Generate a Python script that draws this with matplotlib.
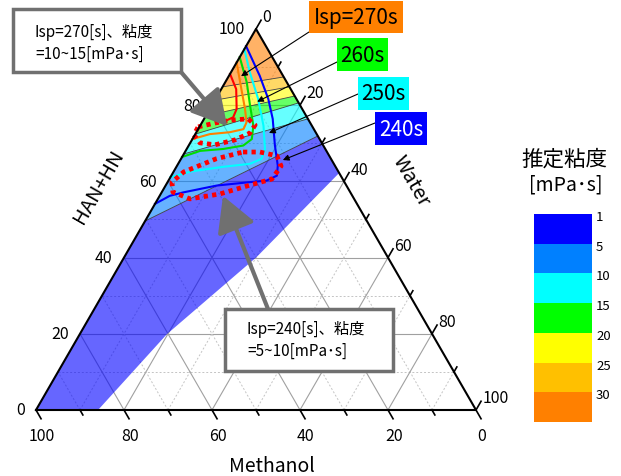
import numpy as np
import matplotlib
matplotlib.use('Agg')
import matplotlib.pyplot as plt
from matplotlib.patches import Polygon, Rectangle
from matplotlib.colors import ListedColormap, BoundaryNorm
from matplotlib.cm import ScalarMappable

plt.rcParams['font.family'] = ['Noto Sans CJK JP', 'DejaVu Sans']

# 推定粘度 legend
visc_ticks = [1, 5, 10, 15, 20, 25, 30]
visc_bounds = [1, 5, 10, 15, 20, 25, 30, 35]
visc_colors = ['#0000ff', '#0080ff', '#00ffff', '#00ff00', '#ffff00', '#ffc000', '#ff8000']

# band borders (HAN+HN % on the left edge / right edge), levels 5,10,15,20,25,30
bound_han_left = [49.6, 67.2, 72.4, 77.2, 81.3, 84.8]
bound_han_right = [71.9, 76.4, 80.6, 82.4, 84.8, 87.4]

# lower limit of the estimated region (from the right edge down to the bottom)
region_han = [62.2, 40.2, 19.9, 0.0]
region_water = [37.8, 30.1, 19.8, 14.1]

# Isp contours (HAN+HN %, Water %)
isp_280_han = [88.2, 84.2, 79.0, 76.8, 75.8]
isp_280_water = [0.0, 3.4, 6.1, 6.4, 5.0]
isp_270_han = [91.2, 86.0, 79.0, 75.5, 73.7, 72.9, 72.4, 71.1]
isp_270_water = [0.0, 3.4, 8.0, 10.1, 10.3, 7.6, 3.3, 0.0]
isp_260_han = [92.6, 86.0, 79.9, 74.6, 71.1, 69.4, 68.5, 68.0, 66.4]
isp_260_water = [0.0, 4.9, 8.7, 12.1, 13.5, 12.4, 8.3, 3.3, 0.0]
isp_250_han = [94.7, 88.6, 81.6, 74.6, 68.5, 65.9, 64.6, 63.8, 62.6, 61.1]
isp_250_water = [0.0, 4.3, 9.7, 14.4, 17.8, 18.3, 16.3, 10.5, 4.0, 0.0]
isp_240_han = [95.5, 87.7, 81.6, 76.4, 69.4, 64.1, 61.5, 60.2, 59.8, 58.9, 57.1, 56.2, 54.1]
isp_240_water = [0.0, 7.0, 12.0, 15.6, 19.6, 22.9, 24.0, 22.3, 18.7, 11.6, 4.9, 2.3, 0.0]

# dotted target areas
area_270_han = [74.3, 75.3, 76.1, 76.4, 74.8, 72.7, 70.9, 69.6, 70.1, 72.2]
area_270_water = [-0.3, 3.0, 6.5, 10.0, 12.4, 12.3, 9.8, 5.9, 2.2, -0.2]
area_240_han = [67.7, 67.7, 66.7, 64.0, 60.6, 59.0, 56.7, 55.4, 57.2, 59.8, 62.5, 65.9]
area_240_water = [13.2, 17.05, 21.4, 23.7, 23.3, 19.1, 13.45, 7.3, 2.5, 1.0, 2.35, 7.95]

# arrow targets (HAN+HN %, Water %)
tip_270 = (87.6, 2.8)
tip_260 = (80.9, 9.8)
tip_250 = (72.7, 16.6)
tip_240 = (65.6, 23.3)
tip_area_270 = (74.5, 6.2)
tip_area_240 = (56.2, 14.4)


def tern(han, water):
    han = np.asarray(han, dtype=float)
    water = np.asarray(water, dtype=float)
    return water + han / 2, han * np.sqrt(3) / 2


def tpt(p):
    x, y = tern(p[0], p[1])
    return float(x), float(y)


def fx(px):
    return px / 621


def fy(py):
    return 1 - py / 477


fig = plt.figure(figsize=(6.21, 4.77), dpi=100)
ax = fig.add_axes([0, 0, 1, 1])
ax.set_xlim(-36 / 4.4, (621 - 36) / 4.4)
ax.set_ylim(-66 / 4.4, 411 / 4.4)
ax.axis('off')

# grid
for v in range(10, 100, 10):
    if v % 20 == 0:
        st = dict(color='#a0a0a0', lw=0.8, ls='-')
    else:
        st = dict(color='#c4c4c4', lw=0.7, ls=(0, (2, 2)))
    ax.plot(*tern([v, v], [0, 100 - v]), zorder=1, **st)
    ax.plot(*tern([0, 100 - v], [v, v]), zorder=1, **st)
    ax.plot(*tern([0, 100 - v], [100 - v, 0]), zorder=1, **st)

# viscosity bands
bands = []
h = [bound_han_left[0], bound_han_right[0]] + region_han + [0.0]
w = [0.0, 100 - bound_han_right[0]] + region_water + [0.0]
bands.append((h, w))
for k in range(1, 6):
    h = [bound_han_left[k], bound_han_right[k], bound_han_right[k - 1], bound_han_left[k - 1]]
    w = [0.0, 100 - bound_han_right[k], 100 - bound_han_right[k - 1], 0.0]
    bands.append((h, w))
bands.append(([100.0, bound_han_right[5], bound_han_left[5]], [0.0, 100 - bound_han_right[5], 0.0]))
for (h, w), c in zip(bands, visc_colors):
    x, y = tern(h, w)
    ax.add_patch(Polygon(np.column_stack([x, y]), closed=True, fc=c, ec='none', alpha=0.6, zorder=2))
for hl, hr in zip(bound_han_left, bound_han_right):
    ax.plot(*tern([hl, hr], [0, 100 - hr]), color='#404040', lw=0.6, zorder=3)

# Isp contours
for hh, ww, c in [(isp_280_han, isp_280_water, '#ff0000'),
                  (isp_270_han, isp_270_water, '#ff8000'),
                  (isp_260_han, isp_260_water, '#00dd00'),
                  (isp_250_han, isp_250_water, '#00ffff'),
                  (isp_240_han, isp_240_water, '#0000ff')]:
    ax.plot(*tern(hh, ww), color=c, lw=1.5, zorder=4, solid_joinstyle='round')

for hh, ww in [(area_270_han, area_270_water), (area_240_han, area_240_water)]:
    ax.plot(*tern(hh + hh[:1], ww + ww[:1]), color='#ff0000', lw=3.4,
            ls=(0, (0.9, 0.9)), dash_capstyle='butt', zorder=5)

# triangle frame
ax.plot(*tern([0, 100, 0, 0], [0, 0, 100, 0]), color='black', lw=1.5, zorder=6)

# ticks and labels
for v in range(0, 101, 10):
    L = 2.3 if v % 20 == 0 else 1.3
    x0, y0 = tpt((0, 100 - v))
    ax.plot([x0, x0 + L * 0.5], [y0, y0 - L * 0.866], color='black', lw=1.2, zorder=6)
    x1, y1 = tpt((100 - v, v))
    ax.plot([x1, x1 + L * 0.5], [y1, y1 + L * 0.866], color='black', lw=1.2, zorder=6)
    if v % 20 == 0:
        ax.text(x0 + 1.3, y0 - 5.8, str(v), ha='center', va='center', fontsize=11.5)
        ax.text(x1 + 1.4, y1 + 2.8, str(v), ha='left', va='center', fontsize=11.5)
        x2, y2 = tpt((v, 0))
        ax.text(x2 - 2.6, y2, str(v), ha='right', va='center', fontsize=11.5)

ax.text(fx(272), fy(467), 'Methanol', transform=ax.transAxes, ha='center', va='center', fontsize=14)
ax.text(fx(99), fy(187), 'HAN+HN', transform=ax.transAxes, ha='center', va='center',
        fontsize=14.5, rotation=60)
ax.text(fx(411), fy(181), 'Water', transform=ax.transAxes, ha='center', va='center',
        fontsize=14.5, rotation=-60)

# Isp label boxes with thin arrows
labels = [('Isp=270s', (309, 2, 403, 34), '#ff8000', 'black', tip_270, (309, 33)),
          ('260s', (337, 39, 388, 72), '#00ff00', 'black', tip_260, (337, 63)),
          ('250s', (358, 78, 409, 111), '#00ffff', 'black', tip_250, (358, 95)),
          ('240s', (375, 113, 427, 146), '#0000ff', 'white', tip_240, (375, 124))]
for txt, (x0, y0, x1, y1), fc, tc, tip, start in labels:
    ax.annotate('', xy=tpt(tip), xytext=(fx(start[0]), fy(start[1])), textcoords='axes fraction',
                arrowprops=dict(arrowstyle='-|>', color='black', lw=0.8, mutation_scale=9,
                                shrinkA=0, shrinkB=0), zorder=7)
    ax.add_patch(Rectangle((fx(x0), fy(y1)), fx(x1 - x0), (y1 - y0) / 477, transform=ax.transAxes,
                           fc=fc, ec='none', zorder=8))
    ax.text(fx((x0 + x1) / 2), fy((y0 + y1) / 2), txt, transform=ax.transAxes, ha='center',
            va='center', fontsize=15, color=tc, zorder=9)

# grey call-out boxes
callouts = [((13, 10, 181, 73), ['Isp=270[s]、粘度', '=10~15[mPa･s]'], (35, 32.5, 54),
             tip_area_270, (181, 73)),
            ((225, 310, 393, 372), ['Isp=240[s]、粘度', '=5~10[mPa･s]'], (247, 329, 351.5),
             tip_area_240, (268, 310))]
for (x0, y0, x1, y1), lines, (tx, ty1, ty2), tip, start in callouts:
    ax.annotate('', xy=tpt(tip), xytext=(fx(start[0]), fy(start[1])), textcoords='axes fraction',
                arrowprops=dict(arrowstyle='-|>,head_length=0.9,head_width=0.5', color='#707070',
                                lw=3, mutation_scale=24, shrinkA=0, shrinkB=0), zorder=7)
    ax.add_patch(Rectangle((fx(x0), fy(y1)), fx(x1 - x0), (y1 - y0) / 477, transform=ax.transAxes,
                           fc='white', ec='#707070', lw=2.5, zorder=8))
    ax.text(fx(tx), fy(ty1), lines[0], transform=ax.transAxes, ha='left', va='center',
            fontsize=11, zorder=9)
    ax.text(fx(tx), fy(ty2), lines[1], transform=ax.transAxes, ha='left', va='center',
            fontsize=11, zorder=9)

# viscosity colour bar
ax.text(fx(564), fy(160), '推定粘度', transform=ax.transAxes, ha='center', va='center', fontsize=15.5)
ax.text(fx(566), fy(185), '[mPa･s]', transform=ax.transAxes, ha='center', va='center', fontsize=14)
cax = fig.add_axes([fx(534), fy(423), fx(58), 208 / 477])
cmap = ListedColormap(visc_colors)
norm = BoundaryNorm(visc_bounds, cmap.N)
cb = fig.colorbar(ScalarMappable(norm=norm, cmap=cmap), cax=cax)
cb.outline.set_visible(False)
cax.invert_yaxis()
cax.set_yticks([])
cax.minorticks_off()
for i, v in enumerate(visc_ticks):
    cax.text(1.07, 1 - i / 7 - 0.012, str(v), transform=cax.transAxes, ha='left', va='center',
             fontsize=9.5)

fig.savefig('out.png', dpi=100)
